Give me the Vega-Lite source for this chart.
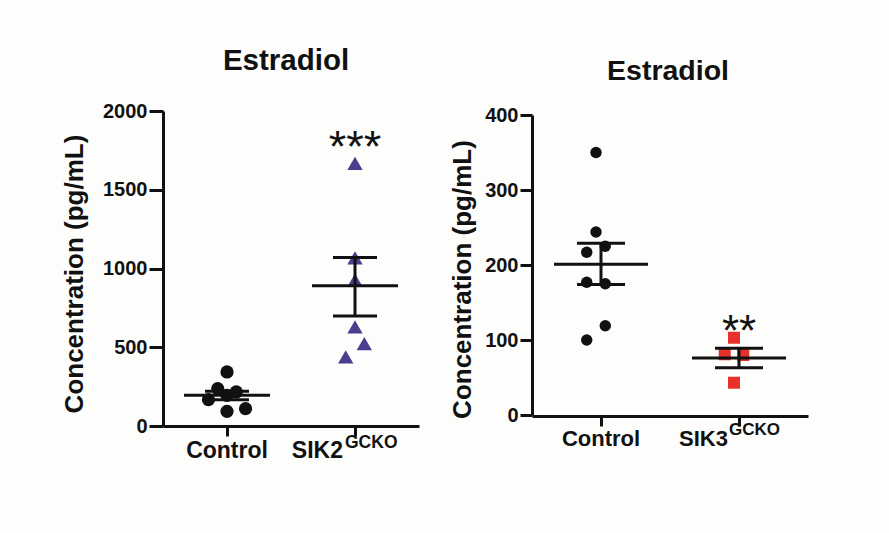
{
  "$schema": "https://vega.github.io/schema/vega-lite/v6.json",
  "background": "#fdfdfb",
  "padding": {"left": 61, "top": 46, "right": 81, "bottom": 70},
  "config": {"font": "Liberation Sans", "view": {"stroke": null}},
  "spacing": 113,
  "bounds": "flush",
  "resolve": {"scale": {"color": "independent", "shape": "independent", "size": "independent"}},
  "datasets": {
    "leftPts": [
      {"group": "Control", "value": 343, "slot": 0},
      {"group": "Control", "value": 237, "slot": -1},
      {"group": "Control", "value": 216, "slot": 1},
      {"group": "Control", "value": 195, "slot": 0},
      {"group": "Control", "value": 167, "slot": -2},
      {"group": "Control", "value": 110, "slot": 2},
      {"group": "Control", "value": 93, "slot": 0},
      {"group": "SIK2", "value": 1668, "slot": 0},
      {"group": "SIK2", "value": 1068, "slot": 0},
      {"group": "SIK2", "value": 926, "slot": 0},
      {"group": "SIK2", "value": 629, "slot": 0},
      {"group": "SIK2", "value": 523, "slot": 1},
      {"group": "SIK2", "value": 439, "slot": -1}
    ],
    "leftSum": [
      {"group": "Control", "mean": 195, "lo": 167, "hi": 221},
      {"group": "SIK2", "mean": 890, "lo": 699, "hi": 1070}
    ],
    "leftLab": [
      {"group": "Control", "main": "Control", "sup": "", "stars": ""},
      {"group": "SIK2", "main": "SIK2", "sup": "GCKO", "stars": "***", "starY": 1675}
    ],
    "rightPts": [
      {"group": "Control", "value": 350, "slot": 0},
      {"group": "Control", "value": 244, "slot": 0},
      {"group": "Control", "value": 217, "slot": -1},
      {"group": "Control", "value": 225, "slot": 1},
      {"group": "Control", "value": 177, "slot": -1},
      {"group": "Control", "value": 175, "slot": 1},
      {"group": "Control", "value": 119, "slot": 1},
      {"group": "Control", "value": 100, "slot": -1},
      {"group": "SIK3", "value": 103, "slot": 0},
      {"group": "SIK3", "value": 81, "slot": -1},
      {"group": "SIK3", "value": 80, "slot": 1},
      {"group": "SIK3", "value": 43, "slot": 0}
    ],
    "rightSum": [
      {"group": "Control", "mean": 201, "lo": 174, "hi": 229},
      {"group": "SIK3", "mean": 76, "lo": 63, "hi": 89}
    ],
    "rightLab": [
      {"group": "Control", "main": "Control", "sup": "", "stars": ""},
      {"group": "SIK3", "main": "SIK3", "sup": "GCKO", "stars": "**", "starY": 92}
    ]
  },
  "hconcat": [
    {
      "width": 256,
      "height": 315,
      "title": {"text": "Estradiol", "fontSize": 29.5, "fontWeight": "bold", "color": "#111111", "frame": "group", "baseline": "alphabetic", "offset": 0, "dy": -1.5, "dx": -5},
      "encoding": {
        "x": {
          "field": "group", "type": "nominal",
          "scale": {"type": "band", "domain": ["Control", "SIK2"], "paddingInner": 0, "paddingOuter": 0},
          "axis": {"labels": false, "title": null, "grid": false, "domainColor": "#111111", "domainWidth": 3, "tickColor": "#111111", "tickWidth": 3, "tickSize": 10, "bandPosition": 0.5}
        }
      },
      "layer": [
        {
          "data": {"name": "leftPts"},
          "mark": {"type": "point", "filled": true, "opacity": 1},
          "encoding": {
            "xOffset": {"field": "slot", "type": "quantitative", "scale": {"domain": [-6.4, 6.4], "range": [0, 128]}},
            "y": {
              "field": "value", "type": "quantitative", "title": "Concentration (pg/mL)",
              "scale": {"domain": [0, 2000], "nice": false},
              "axis": {"values": [0, 500, 1000, 1500, 2000], "format": "d", "grid": false, "domainColor": "#111111", "domainWidth": 3, "tickColor": "#111111", "tickWidth": 3, "tickSize": 14, "labelFontSize": 20, "labelFontWeight": "bold", "labelColor": "#111111", "labelPadding": 2, "title": "Concentration (pg/mL)", "titleFontSize": 26, "titleFontWeight": "bold", "titleColor": "#111111", "titleAngle": -90, "titleX": -89, "titleY": 162.5, "titleAlign": "center", "titleBaseline": "middle"}
            },
            "color": {"field": "group", "type": "nominal", "scale": {"domain": ["Control", "SIK2"], "range": ["#111111", "#4b3e8e"]}, "legend": null},
            "shape": {"field": "group", "type": "nominal", "scale": {"domain": ["Control", "SIK2"], "range": ["circle", "triangle-up"]}, "legend": null},
            "size": {"field": "group", "type": "nominal", "scale": {"domain": ["Control", "SIK2"], "range": [175, 235]}, "legend": null}
          }
        },
        {
          "data": {"name": "leftSum"},
          "mark": {"type": "rule", "strokeWidth": 3, "color": "#111111"},
          "encoding": {"y": {"field": "lo", "type": "quantitative", "title": "Concentration (pg/mL)"}, "y2": {"field": "hi"}}
        },
        {
          "data": {"name": "leftSum"},
          "mark": {"type": "tick", "size": 86, "thickness": 3, "color": "#111111", "opacity": 1},
          "encoding": {"y": {"field": "mean", "type": "quantitative", "title": "Concentration (pg/mL)"}}
        },
        {
          "data": {"name": "leftSum"},
          "mark": {"type": "tick", "size": 44, "thickness": 3, "color": "#111111", "opacity": 1},
          "encoding": {"y": {"field": "lo", "type": "quantitative", "title": "Concentration (pg/mL)"}}
        },
        {
          "data": {"name": "leftSum"},
          "mark": {"type": "tick", "size": 44, "thickness": 3, "color": "#111111", "opacity": 1},
          "encoding": {"y": {"field": "hi", "type": "quantitative", "title": "Concentration (pg/mL)"}}
        },
        {
          "data": {"name": "leftLab"},
          "transform": [{"filter": "datum.sup == ''"}],
          "mark": {"type": "text", "fontSize": 23, "fontWeight": "bold", "color": "#111111", "align": "center", "baseline": "alphabetic", "dy": 32},
          "encoding": {"y": {"datum": 0, "type": "quantitative", "title": "Concentration (pg/mL)"}, "text": {"field": "main"}}
        },
        {
          "data": {"name": "leftLab"},
          "transform": [{"filter": "datum.sup != ''"}],
          "mark": {"type": "text", "fontSize": 23, "fontWeight": "bold", "color": "#111111", "align": "right", "baseline": "alphabetic", "dy": 32, "dx": -12},
          "encoding": {"y": {"datum": 0, "type": "quantitative", "title": "Concentration (pg/mL)"}, "text": {"field": "main"}}
        },
        {
          "data": {"name": "leftLab"},
          "transform": [{"filter": "datum.sup != ''"}],
          "mark": {"type": "text", "fontSize": 17.5, "fontWeight": "bold", "color": "#111111", "align": "left", "baseline": "alphabetic", "dy": 22, "dx": -10},
          "encoding": {"y": {"datum": 0, "type": "quantitative", "title": "Concentration (pg/mL)"}, "text": {"field": "sup"}}
        },
        {
          "data": {"name": "leftLab"},
          "transform": [{"filter": "datum.stars != ''"}],
          "mark": {"type": "text", "fontSize": 45, "color": "#111111", "align": "center", "baseline": "alphabetic"},
          "encoding": {"y": {"field": "starY", "type": "quantitative", "title": "Concentration (pg/mL)"}, "text": {"field": "stars"}}
        }
      ]
    },
    {
      "width": 276,
      "height": 305,
      "title": {"text": "Estradiol", "fontSize": 28.5, "fontWeight": "bold", "color": "#111111", "frame": "group", "baseline": "alphabetic", "offset": 0, "dy": 3, "dx": -2},
      "encoding": {
        "x": {
          "field": "group", "type": "nominal",
          "scale": {"type": "band", "domain": ["Control", "SIK3"], "paddingInner": 0, "paddingOuter": 0},
          "axis": {"labels": false, "title": null, "grid": false, "domainColor": "#111111", "domainWidth": 3, "tickColor": "#111111", "tickWidth": 3, "tickSize": 10, "bandPosition": 0.5}
        }
      },
      "layer": [
        {
          "data": {"name": "rightPts"},
          "mark": {"type": "point", "filled": true, "opacity": 1},
          "encoding": {
            "xOffset": {"field": "slot", "type": "quantitative", "scale": {"domain": [-6.9, 6.9], "range": [0, 138]}},
            "y": {
              "field": "value", "type": "quantitative", "title": "Concentration (pg/mL)",
              "scale": {"domain": [0, 400], "nice": false, "range": [304, 4]},
              "axis": {"values": [0, 100, 200, 300, 400], "format": "d", "grid": false, "domainColor": "#111111", "domainWidth": 3, "tickColor": "#111111", "tickWidth": 3, "tickSize": 12, "labelFontSize": 20, "labelFontWeight": "bold", "labelColor": "#111111", "labelPadding": 2, "title": "Concentration (pg/mL)", "titleFontSize": 26, "titleFontWeight": "bold", "titleColor": "#111111", "titleAngle": -90, "titleX": -70, "titleY": 168, "titleAlign": "center", "titleBaseline": "middle"}
            },
            "color": {"field": "group", "type": "nominal", "scale": {"domain": ["Control", "SIK3"], "range": ["#111111", "#e8312a"]}, "legend": null},
            "shape": {"field": "group", "type": "nominal", "scale": {"domain": ["Control", "SIK3"], "range": ["circle", "square"]}, "legend": null},
            "size": {"field": "group", "type": "nominal", "scale": {"domain": ["Control", "SIK3"], "range": [130, 144]}, "legend": null}
          }
        },
        {
          "data": {"name": "rightSum"},
          "mark": {"type": "rule", "strokeWidth": 3, "color": "#111111"},
          "encoding": {"y": {"field": "lo", "type": "quantitative", "title": "Concentration (pg/mL)"}, "y2": {"field": "hi"}}
        },
        {
          "data": {"name": "rightSum"},
          "mark": {"type": "tick", "size": 94, "thickness": 3, "color": "#111111", "opacity": 1},
          "encoding": {"y": {"field": "mean", "type": "quantitative", "title": "Concentration (pg/mL)"}}
        },
        {
          "data": {"name": "rightSum"},
          "mark": {"type": "tick", "size": 48, "thickness": 3, "color": "#111111", "opacity": 1},
          "encoding": {"y": {"field": "lo", "type": "quantitative", "title": "Concentration (pg/mL)"}}
        },
        {
          "data": {"name": "rightSum"},
          "mark": {"type": "tick", "size": 48, "thickness": 3, "color": "#111111", "opacity": 1},
          "encoding": {"y": {"field": "hi", "type": "quantitative", "title": "Concentration (pg/mL)"}}
        },
        {
          "data": {"name": "rightLab"},
          "transform": [{"filter": "datum.sup == ''"}],
          "mark": {"type": "text", "fontSize": 22, "fontWeight": "bold", "color": "#111111", "align": "center", "baseline": "alphabetic", "dy": 31},
          "encoding": {"y": {"datum": 0, "type": "quantitative", "title": "Concentration (pg/mL)"}, "text": {"field": "main"}}
        },
        {
          "data": {"name": "rightLab"},
          "transform": [{"filter": "datum.sup != ''"}],
          "mark": {"type": "text", "fontSize": 22, "fontWeight": "bold", "color": "#111111", "align": "right", "baseline": "alphabetic", "dy": 31, "dx": -11},
          "encoding": {"y": {"datum": 0, "type": "quantitative", "title": "Concentration (pg/mL)"}, "text": {"field": "main"}}
        },
        {
          "data": {"name": "rightLab"},
          "transform": [{"filter": "datum.sup != ''"}],
          "mark": {"type": "text", "fontSize": 17, "fontWeight": "bold", "color": "#111111", "align": "left", "baseline": "alphabetic", "dy": 20, "dx": -10},
          "encoding": {"y": {"datum": 0, "type": "quantitative", "title": "Concentration (pg/mL)"}, "text": {"field": "sup"}}
        },
        {
          "data": {"name": "rightLab"},
          "transform": [{"filter": "datum.stars != ''"}],
          "mark": {"type": "text", "fontSize": 44, "color": "#111111", "align": "center", "baseline": "alphabetic"},
          "encoding": {"y": {"field": "starY", "type": "quantitative", "title": "Concentration (pg/mL)"}, "text": {"field": "stars"}}
        }
      ]
    }
  ]
}
